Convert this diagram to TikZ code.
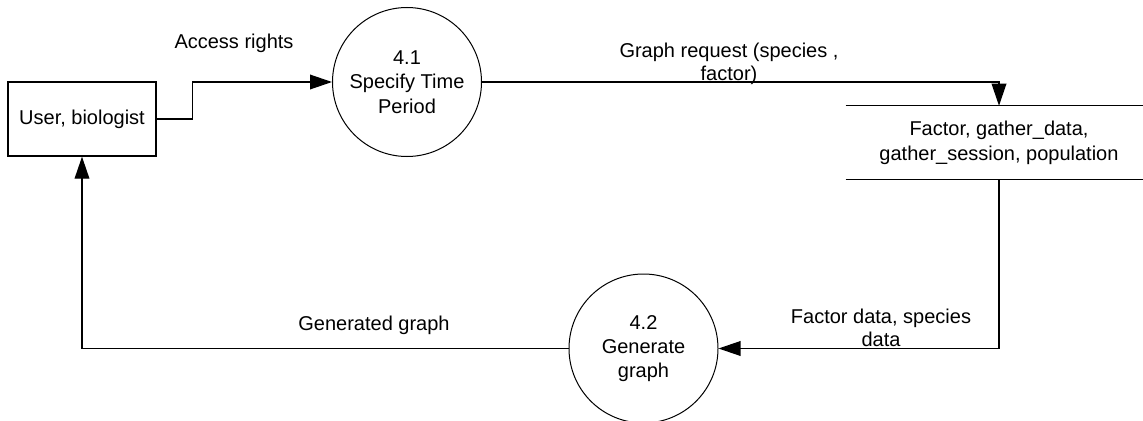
\documentclass[tikz,border=0pt]{standalone}
\usepackage{fontspec}
\setmainfont{Liberation Sans}
\usetikzlibrary{arrows.meta}
\tikzset{
  txt/.style={font=\fontsize{15pt}{17pt}\selectfont, align=center, inner sep=0pt},
  proc/.style={txt, font=\fontsize{15pt}{18.2pt}\selectfont, draw, circle, line width=0.75pt, minimum size=149*0.75pt},
  entity/.style={txt, draw, rectangle, line width=1pt, minimum width=148*0.75pt, minimum height=74*0.75pt},
  storebox/.style={txt, rectangle, minimum width=306*0.75pt, minimum height=73*0.75pt},
  flow/.style={line width=1pt, -{Triangle[length=16.5pt, width=11pt]}},
  flowlabel/.style={txt}
}
\begin{document}
\begin{tikzpicture}[x=0.75pt, y=-0.75pt]
\useasboundingbox (0,0) rectangle (1143,421);
\fill[white] (0,0) rectangle (1143,421);

\node[entity] (user) at (82,119) {User, biologist};
\node[proc] (p41) at (407,82) {4.1\\Specify Time\\Period};
\node[storebox] (store) at (999,142.5) {\raisebox{-8.5pt}{\shortstack{Factor, gather\_data,\\[2pt]gather\_session, population}}};
\draw[line width=1pt] (store.north west) -- (store.north east);
\draw[line width=1pt] (store.south west) -- (store.south east);
\node[proc] (p42) at (643.5,348.5) {4.2\\Generate\\graph};

\draw[flow] (user.east) -- ++(36,0) |- (p41.west);
\draw[flow] (p41.east) -| (store.north);
\draw[flow] (store.south) |- (p42.east);
\draw[flow] (p42.west) -| (user.south);

\node[flowlabel] (l1) at (234,43) {Access rights};
\node[flowlabel] (l2) at (729,64) {Graph request (species ,\\factor)};
\node[flowlabel] (l3) at (881,328) {Factor data, species\\data};
\node[flowlabel] (l4) at (374,325) {Generated graph};
\end{tikzpicture}
\end{document}
